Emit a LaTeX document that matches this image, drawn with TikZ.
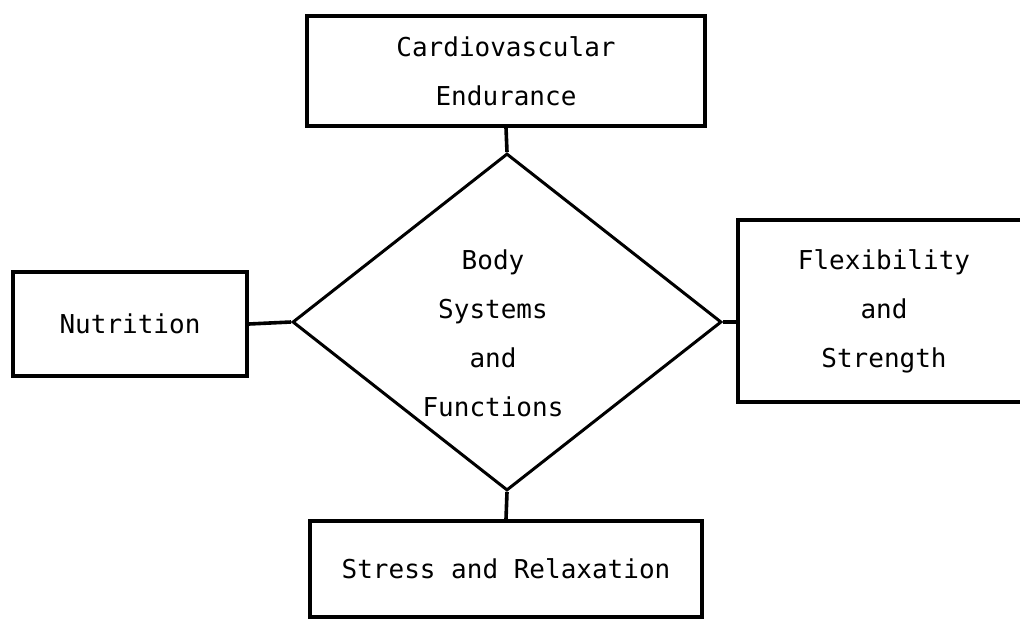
\documentclass[tikz,border=0pt]{standalone}
\usepackage{fontspec}
\setmonofont{DejaVu Sans Mono}
\usetikzlibrary{shapes.geometric}

\begin{document}
\begin{tikzpicture}[
                x=1pt, y=-1pt,
                every node/.style={font=\ttfamily\fontsize{26}{49}\selectfont, align=center},
                topic/.style={draw, line width=3.6pt, inner sep=0pt},
                hub/.style={draw, shape=diamond, line width=3pt, inner sep=0pt,
                            minimum width=429pt, minimum height=337pt},
                link/.style={line width=3.6pt}
            ]
            \useasboundingbox (0,0) rectangle (1020,619);
            \node[hub] (body) at (507,322) {};
            \node (bodytext) at (493,333) {Body\\Systems\\and\\Functions};
            \node[topic, minimum width=398pt, minimum height=110pt] (cardio) at (506,71)
                {Cardiovascular\\Endurance};
            \node[topic, minimum width=234pt, minimum height=104pt] (nutrition) at (130,324)
                {Nutrition};
            \node[topic, minimum width=292pt, minimum height=182pt] (flex) at (884,311)
                {Flexibility\\and\\Strength};
            \node[topic, minimum width=392pt, minimum height=96pt] (stress) at (506,569)
                {Stress and Relaxation};
            \draw[link] (cardio.south) -- (body.north);
            \draw[link] (nutrition.east) -- (body.west);
            \draw[link] (body.east) -- (body.east -| flex.west);
            \draw[link] (body.south) -- (stress.north);
        \end{tikzpicture}
\end{document}
